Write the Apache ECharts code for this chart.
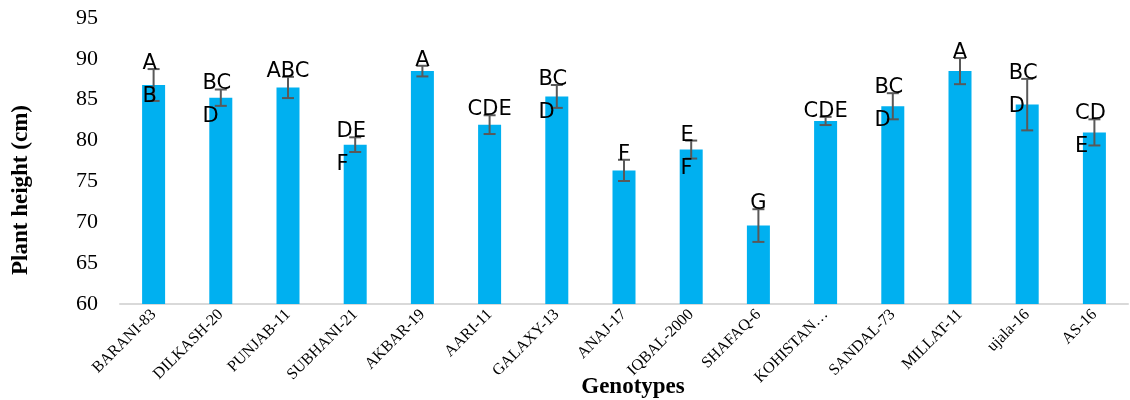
<!DOCTYPE html>
<html>
<head>
<meta charset="utf-8">
<script src="https://cdn.jsdelivr.net/npm/echarts@6/dist/echarts.min.js"></script>
<style>html,body{margin:0;padding:0;background:#fff}#c{width:1130px;height:400px}</style>
</head>
<body>
<div id="c"></div>
<script>
const categories = ['BARANI-83','DILKASH-20','PUNJAB-11','SUBHANI-21','AKBAR-19','AARI-11','GALAXY-13','ANAJ-17','IQBAL-2000','SHAFAQ-6','KOHISTAN…','SANDAL-73','MILLAT-11','ujala-16','AS-16'];
const heights = [86.8,85.25,86.5,79.5,88.5,81.95,85.4,76.35,78.9,69.6,82.4,84.2,88.5,84.4,81.0];
const errors = [1.95,1.0,1.3,0.9,0.65,1.15,1.4,1.3,1.1,2.0,0.5,1.6,1.6,3.15,1.6];
const letters = ['A\nB','BC\nD','ABC','DE\nF','A','CDE','BC\nD','F','E\nF','G','CDE','BC\nD','A','BC\nD','CD\nE'];
const yTicks = [60,65,70,75,80,85,90,95];

const serif = "'Liberation Serif','Times New Roman',serif";
const letterFont = "21px 'DejaVu Sans', sans-serif";
const measureCtx = document.createElement('canvas').getContext('2d');
measureCtx.font = letterFont;

const chart = echarts.init(document.getElementById('c'), null, {renderer:'canvas'});
const errData = heights.map((v,i)=>[i, v, errors[i]]);
const option = {
  animation:false,
  grid:{left:120, right:2, top:18, bottom:96, containLabel:false},
  xAxis:{
    type:'category', data:categories,
    axisLine:{lineStyle:{color:'#d9d9d9', width:2}},
    axisTick:{show:false},
    axisLabel:{rotate:45, fontFamily:serif, fontSize:16, color:'#000', margin:8, interval:0}
  },
  yAxis:{
    type:'value', min:yTicks[0], max:yTicks[yTicks.length-1], interval:5,
    splitLine:{show:false}, axisLine:{show:false}, axisTick:{show:false},
    axisLabel:{fontFamily:serif, fontSize:22, color:'#000', margin:22}
  },
  graphic:[
    {type:'text', x:21, y:190, rotation:Math.PI/2, style:{text:'Plant height (cm)', font:"bold 23px "+serif, fill:'#000', align:'center', verticalAlign:'middle'}},
    {type:'text', x:633, y:387, style:{text:'Genotypes', font:"bold 23px "+serif, fill:'#000', align:'center', verticalAlign:'middle'}}
  ],
  series:[
    {type:'bar', data:heights, barWidth:23, itemStyle:{color:'#00B0F0'}, z:2},
    {type:'custom', data:errData, z:3,
     renderItem:function(params, api){
       const i=api.value(0), v=api.value(1), e=api.value(2);
       const top=api.coord([i, v+e]), bot=api.coord([i, v-e]);
       const x=top[0], hw=6;
       const st={stroke:'#595959', lineWidth:2};
       return {type:'group', children:[
         {type:'line', shape:{x1:x,y1:top[1],x2:x,y2:bot[1]}, style:st},
         {type:'line', shape:{x1:x-hw,y1:top[1],x2:x+hw,y2:top[1]}, style:st},
         {type:'line', shape:{x1:x-hw,y1:bot[1],x2:x+hw,y2:bot[1]}, style:st}
       ]};
     }},
    {type:'custom', data:errData, z:4,
     renderItem:function(params, api){
       const i=api.value(0), v=api.value(1), e=api.value(2);
       const top=api.coord([i, v+e]);
       const txt=letters[params.dataIndex];
       const lines=txt.split('\n');
       const w=Math.max(...lines.map(s=>measureCtx.measureText(s).width));
       const x=top[0]-w/2-(lines.length>1?4:0);
       return {type:'text', x:x, y:top[1]-22,
         style:{text:txt, font:letterFont, fill:'#000', align:'left', verticalAlign:'top', lineHeight:33}};
     }}
  ]
};
chart.setOption(option);
</script>
</body>
</html>
